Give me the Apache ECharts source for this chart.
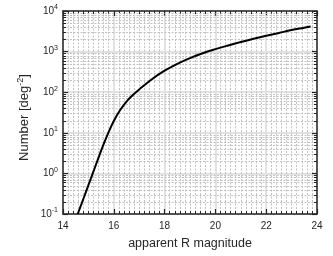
<!DOCTYPE html>
<html><head><meta charset="utf-8">
<script src="https://cdn.jsdelivr.net/npm/echarts@6/dist/echarts.min.js"></script>
<style>html,body{margin:0;padding:0;background:#fff}#c{width:333px;height:256px}</style>
</head><body><div id="c"></div>
<script>
// Data
const magnitudes = [14.58,14.8,15.0,15.2,15.4,15.6,15.8,16.0,16.25,16.5,16.75,17.0,17.5,18.0,18.5,19.0,19.5,20.0,20.5,21.0,21.5,22.0,22.5,23.0,23.5,23.75];
const counts = [0.1,0.234,0.513,1.12,2.45,5.25,10.5,19.5,36.3,58.9,85.1,117,209,339,501,692,912,1148,1413,1718,2065,2455,2884,3388,3890,4169];
const xTicks = [14,16,18,20,22,24];
const yDecades = [-1,0,1,2,3,4];
const xTitle = 'apparent R magnitude';
const yTitle = 'Number [deg{s|-2}]';

const minorY = [];
for (let d = yDecades[0]; d < yDecades[yDecades.length-1]; d++) {
  for (let k = 2; k <= 9; k++) minorY.push([14, +(k*Math.pow(10,d)).toPrecision(3)]);
}
const axisCol = '#262626';
const font = 'Liberation Sans, Arial, sans-serif';
const minorCol = '#c2c2c2';
const majorCol = '#e2e2e2';

const chart = echarts.init(document.getElementById('c'), null, {renderer:'canvas'});
const xBase = {
  type:'value', min:xTicks[0], max:xTicks[xTicks.length-1], interval:2,
  axisLine:{show:true, onZero:false, lineStyle:{color:axisCol, width:1.5}},
  axisTick:{show:true, inside:true, length:5, lineStyle:{color:axisCol, width:1.2}},
  minorTick:{show:true, splitNumber:10, length:3, lineStyle:{color:axisCol, width:1}},
};
const yBase = {
  type:'log', logBase:10, min:0.1, max:10000,
  axisLine:{show:true, onZero:false, lineStyle:{color:axisCol, width:1.5}},
  axisTick:{show:true, inside:true, length:5, lineStyle:{color:axisCol, width:1.2}},
};
chart.setOption({
  animation:false,
  grid:{left:63, right:16, top:11, bottom:42, containLabel:false},
  xAxis:[
    Object.assign({}, xBase, {
      position:'bottom',
      axisLabel:{color:axisCol, fontSize:10, fontFamily:font, margin:7},
      splitLine:{show:true, lineStyle:{color:majorCol, width:2}},
      minorSplitLine:{show:true, lineStyle:{color:minorCol, width:1, type:[2,1.5]}},
      name:xTitle, nameLocation:'middle', nameGap:23,
      nameTextStyle:{color:axisCol, fontSize:12.5, fontFamily:font}
    }),
    Object.assign({}, xBase, {
      position:'top', axisLabel:{show:false}, splitLine:{show:false}
    })
  ],
  yAxis:[
    Object.assign({}, yBase, {
      position:'left',
      axisLabel:{color:axisCol, fontFamily:font, margin:5,
        formatter:v => '{b|10}{s|' + Math.round(Math.log10(v)) + '}',
        rich:{b:{fontSize:10, fontFamily:font, color:axisCol},
              s:{fontSize:7, fontFamily:font, color:axisCol, padding:[0,0,7,0]}}},
      splitLine:{show:true, lineStyle:{color:majorCol, width:2}},
      name:yTitle, nameLocation:'middle', nameGap:30, nameRotate:90, nameMoveOverlap:false,
      nameTextStyle:{color:axisCol, fontSize:13, fontFamily:font, padding:[0,10,0,0],
        rich:{s:{fontSize:9, fontFamily:font, color:axisCol, padding:[0,0,8,0]}}}
    }),
    Object.assign({}, yBase, {
      position:'right', axisLabel:{show:false}, splitLine:{show:false}
    })
  ],
  series:[
    {
      type:'custom', silent:true, z:1, xAxisIndex:0, yAxisIndex:0,
      data:minorY, encode:{x:0,y:1}, clip:false,
      renderItem:(params, api) => {
        const cs = params.coordSys;
        const y = Math.round(api.coord([api.value(0), api.value(1)])[1]) + 0.5;
        const x0 = cs.x, x1 = cs.x + cs.width;
        return {type:'group', children:[
          {type:'line', shape:{x1:x0, y1:y, x2:x1, y2:y}, style:{stroke:minorCol, lineWidth:1, lineDash:[2,1.5]}},
          {type:'line', shape:{x1:x0, y1:y, x2:x0+3, y2:y}, style:{stroke:axisCol, lineWidth:1}, z2:10},
          {type:'line', shape:{x1:x1-3, y1:y, x2:x1, y2:y}, style:{stroke:axisCol, lineWidth:1}, z2:10}
        ]};
      }
    },
    {
      type:'line', z:5, xAxisIndex:0, yAxisIndex:0,
      data:magnitudes.map((m,i)=>[m, counts[i]]),
      smooth:0.4, showSymbol:false, symbol:'none',
      lineStyle:{color:'#000', width:2}
    }
  ]
});
</script></body></html>
